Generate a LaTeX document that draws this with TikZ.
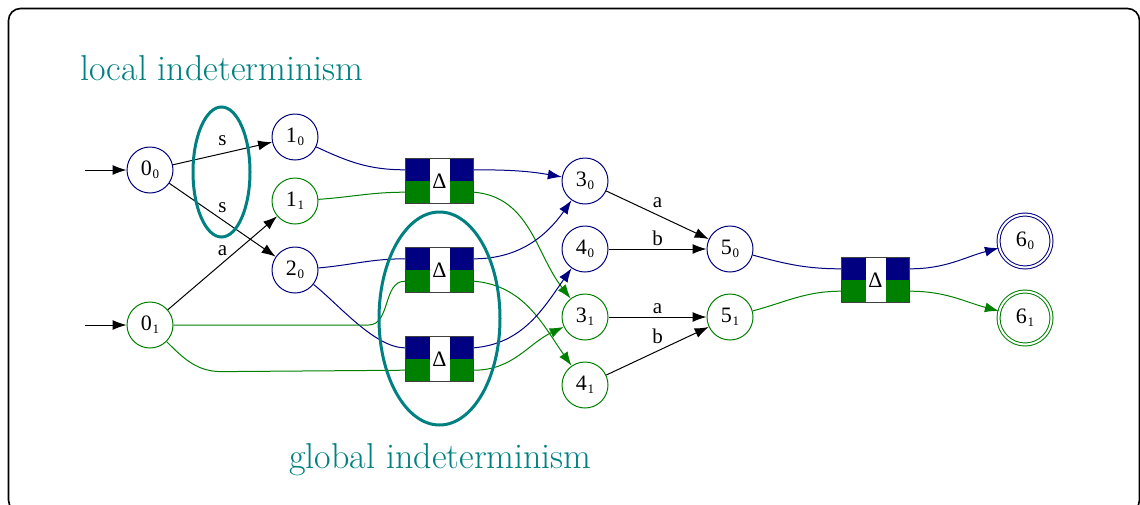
\documentclass[tikz,border=0pt]{standalone}
\usepackage{fontspec}
\newfontfamily\timesfont{Liberation Serif}
\usetikzlibrary{arrows.meta, positioning}
\definecolor{navyb}{RGB}{0,0,128}
\definecolor{dgreen}{RGB}{0,128,0}
\definecolor{tealc}{RGB}{0,128,128}
\newcommand{\sub}[2]{#1\kern0.3pt\raisebox{-1.4pt}{\fontsize{6.5}{6.5}\selectfont#2}}

\tikzset{
	st/.style={circle, draw=#1, line width=0.5pt, minimum size=23pt, inner sep=0pt, font=\timesfont\fontsize{11}{13}\selectfont},
	fin/.style={st=#1, double, double distance=1pt, minimum size=26.5pt},
	dbox/.style={rectangle, draw=black!75, line width=0.6pt, minimum width=34pt, minimum height=22.5pt, inner sep=0pt,
		font=\timesfont\fontsize{11}{13}\selectfont,
		path picture={
			\fill[navyb] (path picture bounding box.north west) rectangle ++(12pt,-11.25pt);
			\fill[dgreen] (path picture bounding box.west) rectangle ++(12pt,-11.25pt);
			\fill[navyb] (path picture bounding box.north east) rectangle ++(-12pt,-11.25pt);
			\fill[dgreen] (path picture bounding box.east) rectangle ++(-12pt,-11.25pt);
		}},
	ln/.style={line width=0.5pt},
	ed/.style={line width=0.5pt, -{Latex[length=7pt,width=5pt]}},
	lbl/.style={font=\timesfont\fontsize{10.5}{12}\selectfont, inner sep=1.5pt},
	note/.style={tealc, font=\fontsize{18}{21}\selectfont, inner sep=0pt, anchor=base west},
	ring/.style={tealc, line width=1.5pt}
}

\begin{document}
\begin{tikzpicture}[x=0.5pt, y=0.5pt]
	\useasboundingbox (0,0) rectangle (1140,-504);
	\draw[rounded corners=6pt, line width=0.8pt] (8.5,-8.5) rectangle (1139.5,-512);

	% states
	\foreach \a/\b/\x/\y/\c in {0/0/150/170/navyb, 0/1/150/325/dgreen, 1/0/295/137/navyb, 1/1/295/201/dgreen,
		2/0/295/270/navyb, 3/0/585/181/navyb, 4/0/585/249/navyb, 3/1/585/317/dgreen, 4/1/585/385/dgreen,
		5/0/730/249/navyb, 5/1/730/317/dgreen}{
		\node[st=\c] (q\a\b) at (\x,-\y) {\sub{\a}{\b}};
	}
	\node[fin=navyb] (q60) at (1025,-241) {\sub{6}{0}};
	\node[fin=dgreen] (q61) at (1025,-318) {\sub{6}{1}};

	% delta boxes
	\foreach \i/\x/\y in {1/439.5/181, 2/439.5/270, 3/439.5/359, 4/875.5/280}{
		\node[dbox] (d\i) at (\x,-\y) {Δ};
	}

	% initial arrows
	\coordinate (i0) at (85,-170);
	\coordinate (i1) at (85,-325);
	\draw[ed] (i0) -- (q00);
	\draw[ed] (i1) -- (q01);

	% first letters
	\draw[ed] (q00) -- node[lbl, above=2pt] {s} (q10);
	\draw[ed] (q00) -- node[lbl, above=2pt] {s} (q20);
	\draw[ed] (q01) -- node[lbl, above=2pt] {a} (q11);

	% into the boxes
	\draw[ln, navyb] (q10) to[out=-25, in=180] ([yshift=5.6pt]d1.west);
	\draw[ln, dgreen] (q11) to[out=4, in=180] ([yshift=-5.6pt]d1.west);
	\draw[ln, navyb] (q20) to[out=5, in=180] ([yshift=5.6pt]d2.west);
	\draw[ln, navyb] (q20) to[out=-38, in=180, looseness=0.7] ([yshift=5.6pt]d3.west);
	\draw[ln, dgreen] (q01.east) -- ++(195,0) to[out=0, in=180] ([yshift=-5.6pt]d2.west);
	\draw[ln, dgreen] (q01.-45) to[out=-45, in=180] ++(55,-30) -- ([yshift=-5.6pt]d3.west);

	% out of the boxes
	\draw[ed, navyb] ([yshift=5.6pt]d1.east) to[out=0, in=170] (q30);
	\draw[ed, dgreen] ([yshift=-5.6pt]d1.east) to[out=-5, in=128] (q31);
	\draw[ed, navyb] ([yshift=5.6pt]d2.east) to[out=0, in=-125] (q30);
	\draw[ed, dgreen] ([yshift=-5.6pt]d2.east) to[out=-5, in=125] (q41);
	\draw[ed, navyb] ([yshift=5.6pt]d3.east) to[out=5, in=-125] (q40);
	\draw[ed, dgreen] ([yshift=-5.6pt]d3.east) to[out=0, in=-155] (q31);

	% second letters
	\draw[ed] (q30) -- node[lbl, above=2pt] {a} (q50);
	\draw[ed] (q40) -- node[lbl, above] {b} (q50);
	\draw[ed] (q31) -- node[lbl, above] {a} (q51);
	\draw[ed] (q41) -- node[lbl, above=2pt] {b} (q51);

	% last box
	\draw[ln, navyb] (q50) to[out=-15, in=180] ([yshift=5.6pt]d4.west);
	\draw[ln, dgreen] (q51) to[out=15, in=180] ([yshift=-5.6pt]d4.west);
	\draw[ed, navyb] ([yshift=5.6pt]d4.east) to[out=0, in=195] (q60);
	\draw[ed, dgreen] ([yshift=-5.6pt]d4.east) to[out=0, in=165] (q61);

	% indeterminism
	\draw[ring] (221.5,-172) ellipse [x radius=14.25pt, y radius=32.5pt];
	\draw[ring] (439.5,-318.5) ellipse [x radius=30.25pt, y radius=53.25pt];
	\node[note] (loc) at (80,-80) {local indeterminism};
	\node[note] (glob) at (289,-468) {global indeterminism};
\end{tikzpicture}
\end{document}
